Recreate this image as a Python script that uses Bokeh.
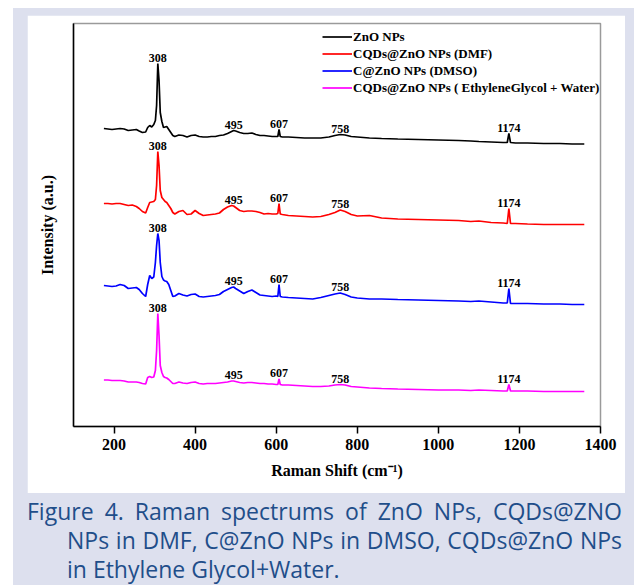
from bokeh.plotting import figure
from bokeh.models import Range1d, FixedTicker, Legend, LegendItem, Div, ColumnDataSource
from bokeh.layouts import column
from bokeh.core.properties import value
from bokeh.embed import file_html
from bokeh.resources import INLINE

# Raman shift (cm^-1)
shift = [175, 185, 195, 205, 215, 225, 235, 245, 255, 262, 270, 278, 283, 288, 293, 298, 302, 305, 308, 311,
         314, 318, 322, 326, 330, 335, 340, 345, 350, 360, 370, 380, 390, 400, 410, 420, 430, 440, 450, 460,
         470, 480, 490, 495, 500, 510, 520, 530, 540, 550, 560, 570, 580, 590, 600, 604, 607, 610, 615, 630,
         650, 670, 690, 710, 730, 745, 758, 770, 785, 800, 830, 860, 900, 950, 1000, 1050, 1080, 1100, 1130, 1160,
         1170, 1174, 1178, 1190, 1220, 1260, 1300, 1330, 1360]

zno = [298, 297.5, 297, 297.5, 298, 297.5, 296, 296.5, 297, 295.5, 294, 294.5, 299, 301, 299.5, 302, 306, 321, 363, 346,
       314, 305, 299, 299.5, 300, 297, 294, 291, 290, 291.5, 291, 289.5, 291, 291.5, 290, 289.5, 289.5, 290, 290, 291,
       291.5, 293, 295, 296, 295.5, 294, 293, 293, 293.5, 292, 291, 291, 290.5, 290, 290, 290, 297, 290, 289.5, 289.5,
       289, 288.5, 288.5, 288.5, 289.5, 291, 292, 291.5, 290, 289.5, 288.5, 288, 287.5, 287, 286.5, 286, 285.5, 285, 284.5, 284,
       284, 293, 284, 283.5, 283.5, 283, 283, 282.5, 282.5]

cqd_dmf = [223, 223, 222.5, 223, 223, 222, 221, 221.5, 220, 218, 215, 213.5, 219, 224, 224.5, 225, 227, 241, 275, 261,
           236, 229, 227, 225, 224, 221, 218, 214, 212.5, 215, 216, 212, 212.5, 216, 213, 211, 211.5, 212, 212.5, 213.5,
           217, 219.5, 221, 220.5, 219, 216, 215, 215.5, 215.5, 215, 214, 212.5, 213, 212.5, 212.5, 213, 223, 212.5, 212, 211,
           210.5, 210, 209.5, 210, 212, 214, 216.5, 215, 212, 210.5, 211, 208.5, 207.5, 207, 206.5, 206, 205, 205.5, 204, 203.5,
           203, 218, 203, 203, 202.5, 202, 202, 202, 202]

c_dmso = [141, 140.5, 140, 140.5, 142, 141, 138, 138.5, 139, 137, 133, 130, 142, 151, 148, 149.5, 164, 181, 193, 186,
          164, 150, 146.5, 145.5, 145, 142, 136, 130, 130.5, 133, 131.5, 130.5, 132, 132.5, 130, 129.5, 130, 130.5, 131, 132,
          135, 137, 139, 139.5, 138, 135.5, 133, 135, 136.5, 134, 131.5, 131, 130.5, 130, 130.5, 130, 142, 130, 129.5, 129,
          128.5, 128, 127.5, 129, 131, 132.5, 133.5, 132, 129.5, 128.5, 127.5, 127.5, 127, 126.5, 126, 125.5, 125, 125.5, 124.5, 123.5,
          123.5, 138, 123, 123, 123, 122.5, 122.5, 122, 122]

cqd_eg_water = [46.5, 46.5, 46, 46, 46, 45.5, 44.5, 44.5, 44.5, 44, 43, 42.5, 49, 50, 49, 49.5, 56, 76, 113, 91,
                61, 54, 50, 49, 48.5, 47, 45, 43, 43, 44.5, 43.5, 43, 44, 44.5, 43, 42.5, 43, 43, 43, 43.5,
                44, 44.5, 45.5, 45.5, 45, 44, 43.5, 44, 44, 43.5, 43, 43, 42.5, 42.5, 42, 42, 47.5, 42, 41.5, 41.5,
                41, 40.5, 40, 40, 40.5, 41.5, 42, 41.5, 40, 39.5, 38.5, 38, 37.5, 37, 36.5, 36.5, 36, 36.5, 36, 35.5,
                35.5, 42, 35.5, 35.5, 35.5, 35, 35, 35, 35]

series_names = ["ZnO NPs", "CQDs@ZnO NPs (DMF)", "C@ZnO NPs (DMSO)",
                "CQDs@ZnO NPs ( EthyleneGlycol + Water)"]
series_colors = ["#000000", "#ff0000", "#0000ff", "#ff00ff"]
peaks = [308, 495, 607, 758, 1174]
x_ticks = [200, 400, 600, 800, 1000, 1200, 1400]

SERIF = "Liberation Serif"

p = figure(width=598, height=478, output_backend="svg", toolbar_location=None,
           x_range=Range1d(100, 1400), y_range=Range1d(0, 403),
           min_border_left=46, min_border_right=25, min_border_top=8, min_border_bottom=67,
           margin=(7, 9, 0, 14))
p.xgrid.visible = False
p.ygrid.visible = False
p.outline_line_color = "#9a9a9a"
p.outline_line_width = 1.5
p.background_fill_color = "white"
p.border_fill_color = "white"

xa = p.xaxis[0]
xa.ticker = FixedTicker(ticks=x_ticks)
xa.major_tick_in = 0
xa.major_tick_out = 7
xa.minor_tick_line_color = None
xa.major_tick_line_width = 1.5
xa.axis_line_width = 1.5
xa.axis_line_color = "black"
xa.major_tick_line_color = "black"
xa.major_label_text_font = SERIF
xa.major_label_text_font_style = "bold"
xa.major_label_text_font_size = "16px"
xa.major_label_text_color = "black"
xa.major_label_standoff = 5
xa.axis_label = "Raman Shift (cm\u207b\u00b9)"
xa.axis_label_text_font = SERIF
xa.axis_label_text_font_style = "bold"
xa.axis_label_text_font_size = "16px"
xa.axis_label_text_color = "black"
xa.axis_label_standoff = 9

ya = p.yaxis[0]
ya.ticker = FixedTicker(ticks=[])
ya.major_tick_in = 0
ya.major_tick_out = 0
ya.minor_tick_line_color = None
ya.major_label_standoff = 0
ya.axis_line_width = 1.5
ya.axis_line_color = "black"
ya.axis_label = "Intensity (a.u.)"
ya.axis_label_text_font = SERIF
ya.axis_label_text_font_style = "bold"
ya.axis_label_text_font_size = "16px"
ya.axis_label_text_color = "black"
ya.axis_label_standoff = 18

all_series = [zno, cqd_dmf, c_dmso, cqd_eg_water]
items = []
lx, ly, lt = [], [], []
for name, col, ys in zip(series_names, series_colors, all_series):
    r = p.line(shift, ys, line_color=col, line_width=1.7)
    items.append(LegendItem(label=name, renderers=[r]))
    for pk in peaks:
        i = min(range(len(shift)), key=lambda k: abs(shift[k] - pk))
        lo, hi = max(0, i - 1), min(len(shift), i + 2)
        lx.append(pk)
        ly.append(max(ys[lo:hi]))
        lt.append(str(pk))

src = ColumnDataSource(dict(x=lx, y=ly, t=lt))
p.text("x", "y", text="t", source=src, text_font=value(SERIF), text_font_style="bold",
       text_font_size="12px", text_color="black", text_align="center",
       text_baseline="bottom", y_offset=-2)

legend = Legend(items=items, location=(249, 330), padding=0, margin=0, spacing=0,
                label_height=17, glyph_height=17, glyph_width=30, label_standoff=1,
                border_line_alpha=0, background_fill_alpha=0,
                label_text_font=SERIF, label_text_font_style="bold",
                label_text_font_size="13px", label_text_color="black")
p.add_layout(legend)

caption_html = (
    '<div style="width: 555px; font-family: \'Open Sans\', sans-serif; font-size: 23px; line-height: 29px; '
    'color: #1f4e8a; padding-left: 40px; white-space: nowrap;">'
    '<div style="width: 555px; text-indent: -40px; text-align: justify; text-align-last: justify;">'
    'Figure 4. Raman spectrums of ZnO NPs, CQDs@ZNO</div>'
    '<div style="width: 555px; text-align: justify; text-align-last: justify;">'
    'NPs in DMF, C@ZnO NPs in DMSO, CQDs@ZnO NPs</div>'
    '<div>in Ethylene Glycol+Water.</div>'
    '</div>'
)
cap = Div(text=caption_html, width=595, height=88, margin=(4, 0, 0, 14))

page = column(p, cap, margin=(8, 0, 0, 13),
              styles={"background-color": "#dde0ee"})

open("out.html", "w").write(file_html(page, INLINE))
